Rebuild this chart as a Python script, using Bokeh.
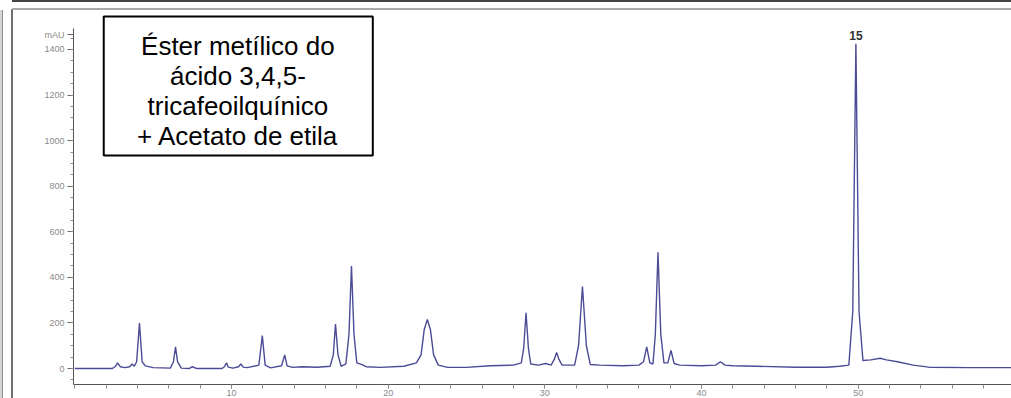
from bokeh.plotting import figure
from bokeh.models import Range1d, BoxAnnotation, Label, FixedTicker, ColumnDataSource
from bokeh.embed import file_html
from bokeh.resources import INLINE

# ---- data (time in min, signal in mAU) ----
time_min = [0.0, 2.4, 2.6, 2.73, 2.9, 3.2, 3.5, 3.66, 3.8, 3.95, 4.13, 4.3, 4.5, 5.0,
            6.1, 6.3, 6.43, 6.56, 6.8, 7.3, 7.5, 7.8, 9.4, 9.55, 9.68, 9.8, 10.1,
            10.45, 10.6, 10.75, 11.0, 11.75, 11.97, 12.15, 12.5, 13.2, 13.4, 13.55,
            13.9, 14.5, 15.5, 16.3, 16.5, 16.64, 16.8, 17.0, 17.3, 17.5, 17.66, 17.82,
            18.0, 18.3, 18.6, 19.5, 21.0, 21.8, 22.1, 22.3, 22.5, 22.7, 22.9, 23.2,
            23.8, 25.0, 26.5, 28.0, 28.5, 28.65, 28.8, 28.95, 29.1, 29.6, 30.05, 30.4,
            30.6, 30.75, 30.9, 31.1, 31.9, 32.15, 32.4, 32.65, 32.9, 33.5, 35.0, 36.0,
            36.3, 36.5, 36.7, 36.9, 37.05, 37.22, 37.4, 37.6, 37.85, 38.05, 38.25, 38.6,
            40.0, 40.9, 41.2, 41.5, 42.0, 43.5, 46.0, 48.0, 48.8, 49.4, 49.65, 49.85,
            50.05, 50.3, 50.8, 51.4, 51.8, 52.5, 53.5, 54.5, 57.0, 59.8]
signal_mau = [0, 0, 10, 25, 8, 4, 8, 20, 10, 30, 200, 30, 12, 4,
              2, 30, 95, 30, 2, 0, 8, 0, 0, 8, 25, 6, 2,
              8, 20, 6, 4, 15, 145, 15, 3, 12, 60, 12,
              5, 8, 6, 10, 60, 195, 60, 10, 20, 150, 450, 150,
              25, 18, 8, 5, 10, 25, 60, 170, 215, 170, 60, 15,
              5, 5, 12, 15, 25, 90, 245, 90, 20, 15, 22, 15,
              40, 70, 40, 15, 15, 100, 360, 100, 18, 15, 12, 15,
              30, 95, 25, 20, 150, 510, 150, 25, 25, 80, 22, 15,
              12, 15, 30, 15, 12, 10, 6, 6, 10, 15, 250, 1425,
              250, 35, 38, 45, 38, 30, 15, 6, 4, 4]

x_major_ticks = [10, 20, 30, 40, 50, 60]
x_minor_ticks = list(range(0, 62, 2))
y_major_ticks = [0, 200, 400, 600, 800, 1000, 1200, 1400, 1465]
y_tick_labels = {1465: "mAU"}
y_minor_ticks = list(range(-50, 1500, 50))

peak_label = "15"
peak_label_time = 49.85
peak_label_mau = 1462

box_text = "Éster metílico do\nácido 3,4,5-\ntricafeoilquínico\n+ Acetato de etila"

src = ColumnDataSource(dict(t=time_min, s=signal_mau))

p = figure(width=1011, height=398, output_backend="svg", toolbar_location=None,
           x_range=Range1d(-0.08, 59.78), y_range=Range1d(-70, 1571),
           min_border_left=73, min_border_right=0, min_border_top=10, min_border_bottom=14)
p.grid.visible = False
p.outline_line_color = None
p.background_fill_color = "white"
p.border_fill_alpha = 0.0
# page-frame lines of the original screenshot, painted behind the transparent border
p.styles = {"background": (
    "linear-gradient(#444444,#444444) 12px 0px / 999px 2px no-repeat, "
    "linear-gradient(#a8a8a8,#a8a8a8) 12px 8px / 999px 2px no-repeat, "
    "linear-gradient(#707070,#707070) 11px 9px / 2px 389px no-repeat, "
    "linear-gradient(#909090,#909090) 2px 10px / 1px 388px no-repeat, "
    "linear-gradient(#d4d4d4,#d4d4d4) 0px 10px / 2px 388px no-repeat, "
    "#ffffff")}

p.line("t", "s", source=src, line_color="#4b4b96", line_width=1.4)

# axes
xa = p.xaxis[0]
xa.ticker = FixedTicker(ticks=x_major_ticks, minor_ticks=x_minor_ticks)
xa.axis_line_color = "#555555"
xa.major_tick_line_color = "#666666"
xa.minor_tick_line_color = "#888888"
xa.major_tick_out = 4
xa.major_tick_in = 0
xa.minor_tick_out = 4
xa.minor_tick_in = 0
xa.major_label_text_font = "Liberation Sans"
xa.major_label_text_font_size = "9px"
xa.major_label_text_color = "#8a8a8a"
xa.major_label_standoff = 1

ya = p.yaxis[0]
ya.ticker = FixedTicker(ticks=y_major_ticks, minor_ticks=y_minor_ticks)
ya.major_label_overrides = y_tick_labels
ya.bounds = (-70, 1490)
ya.axis_line_color = "#555555"
ya.major_tick_line_color = "#666666"
ya.minor_tick_line_color = "#888888"
ya.major_tick_out = 6
ya.major_tick_in = 0
ya.minor_tick_out = 3
ya.minor_tick_in = 0
ya.major_label_text_font = "Liberation Sans"
ya.major_label_text_font_size = "9px"
ya.major_label_text_color = "#8a8a8a"
ya.major_label_standoff = 3

# peak label
p.add_layout(Label(x=peak_label_time, y=peak_label_mau, text=peak_label,
                   text_font="Liberation Sans", text_font_size="12px", text_font_style="bold",
                   text_color="#333333", text_align="center", text_baseline="alphabetic"))

# text box
p.add_layout(BoxAnnotation(left=1.85, right=19.02, top=1545, bottom=935,
                           fill_color="white", fill_alpha=1.0,
                           line_color="black", line_alpha=1.0, line_width=2))
p.add_layout(Label(x=10.41, y=1479, text=box_text, text_font="Liberation Sans",
                   text_font_size="26px", text_color="black", text_align="center",
                   text_baseline="top", text_line_height=1.0))

open("out.html", "w").write(file_html(p, INLINE))
